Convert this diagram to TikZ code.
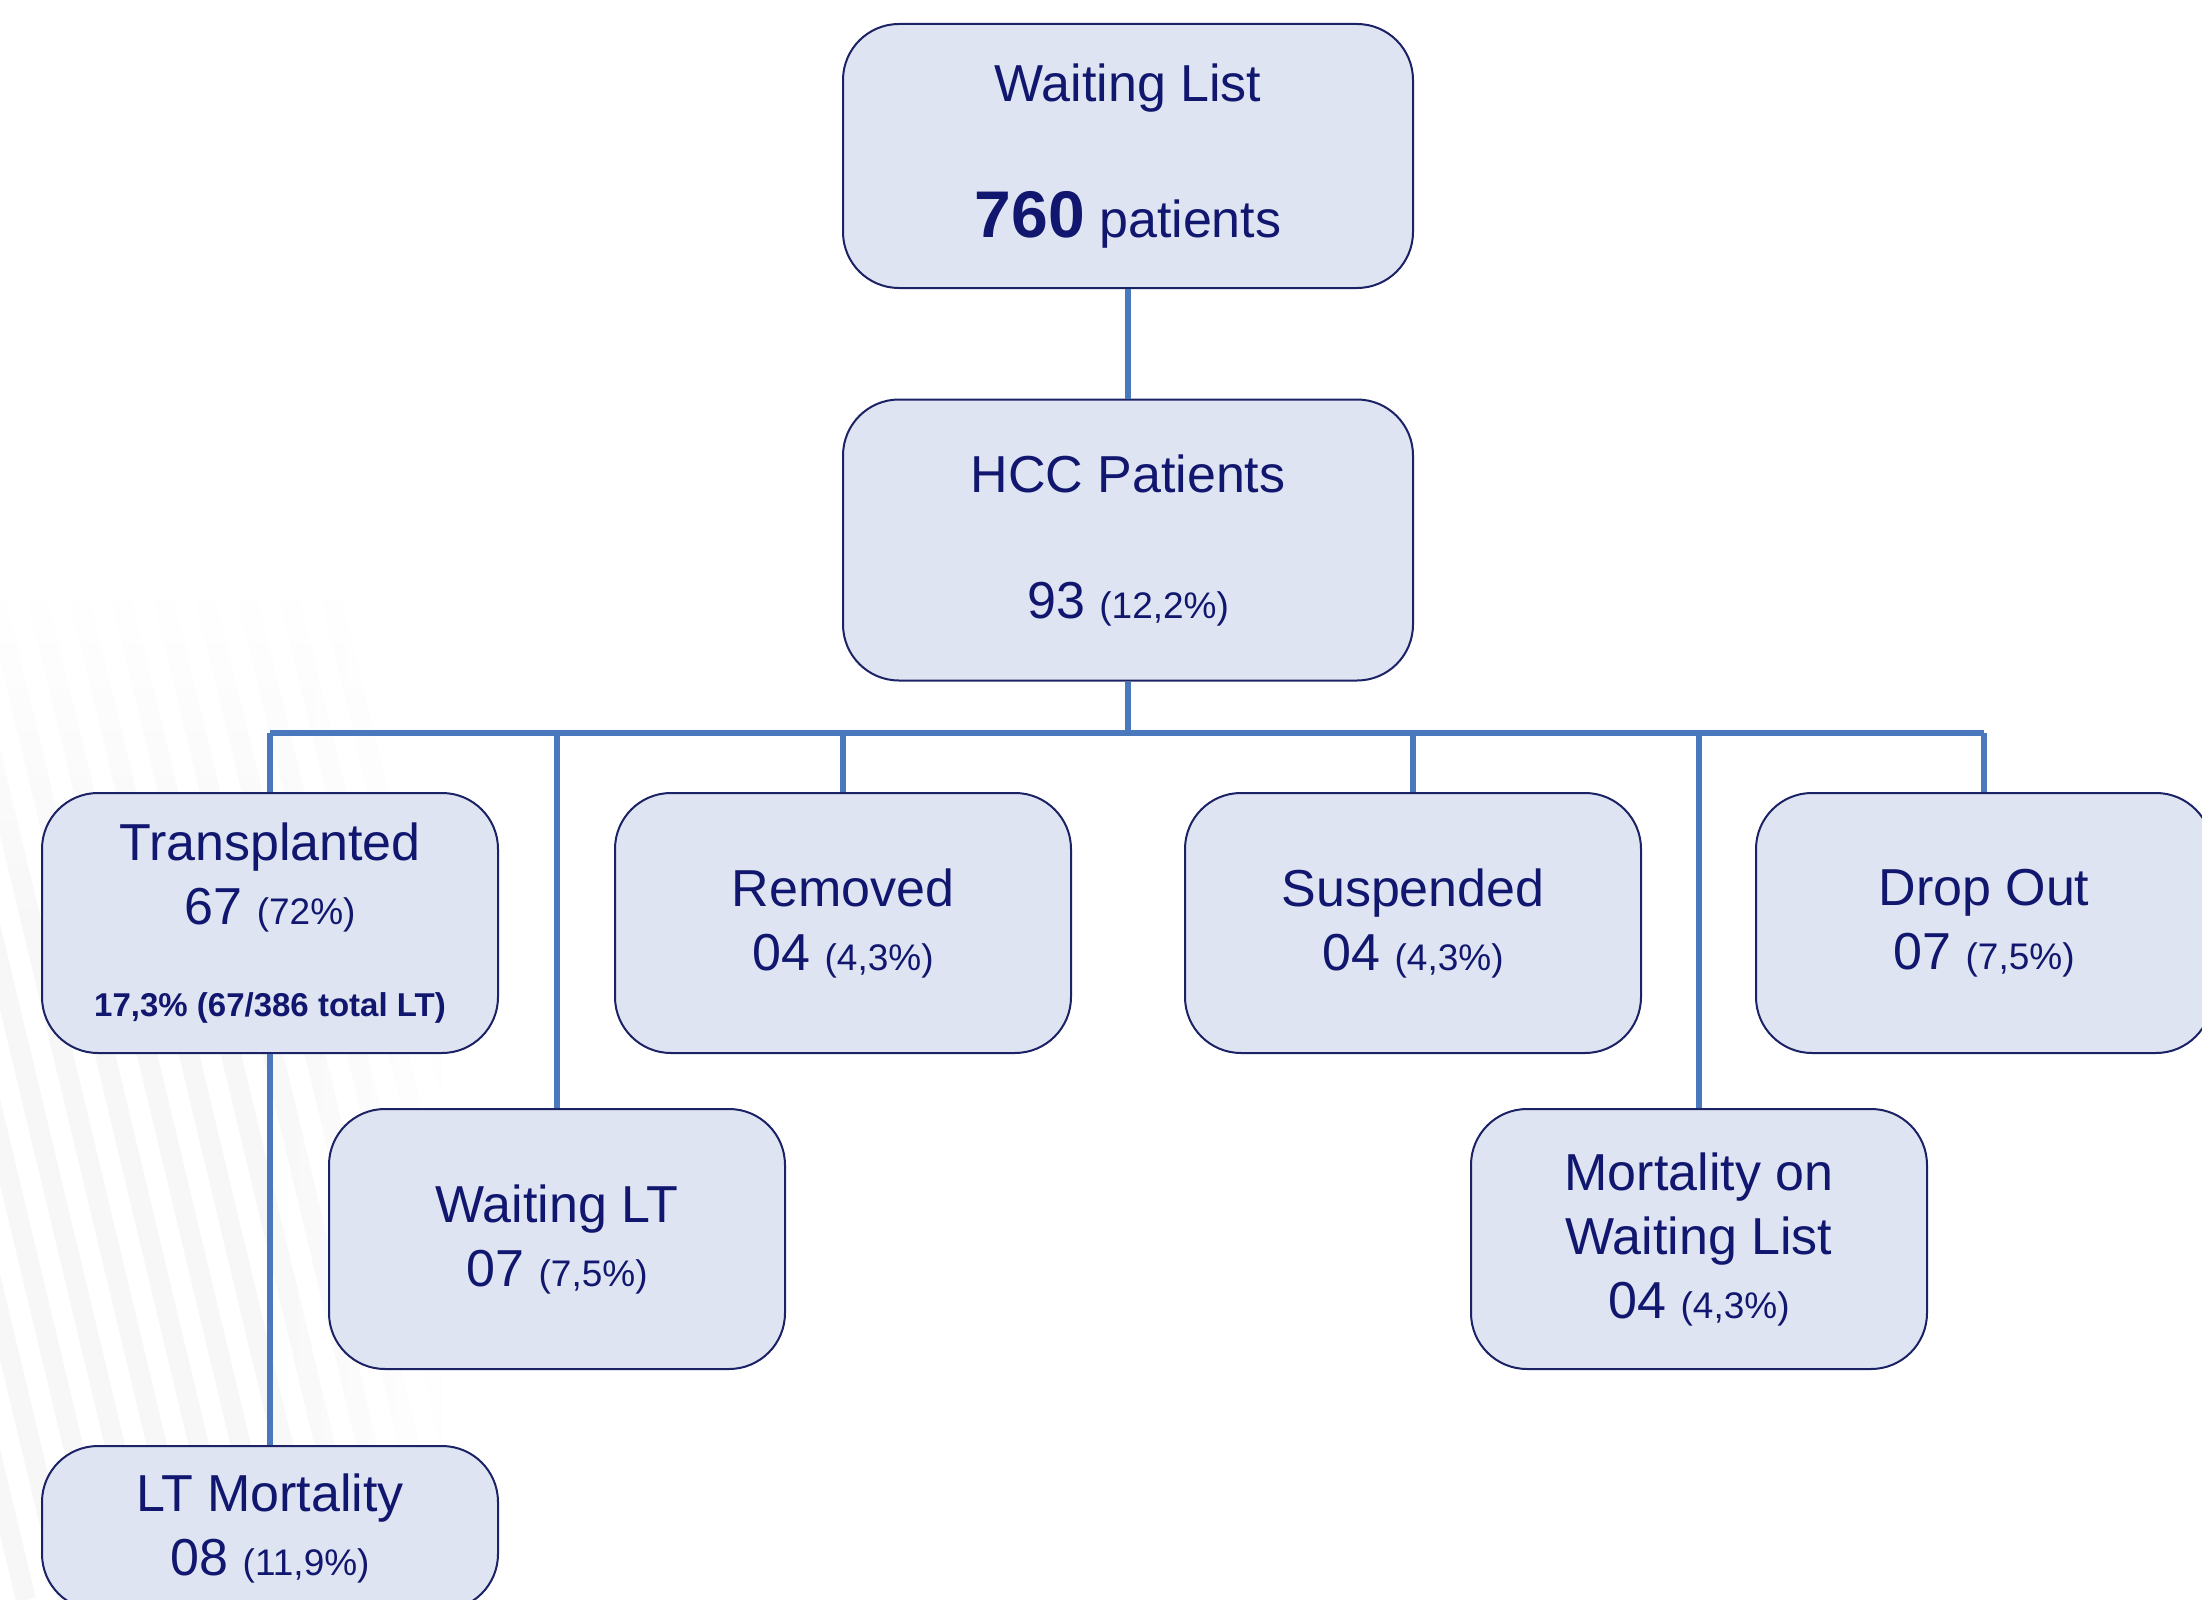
\documentclass[tikz,border=0pt]{standalone}
\usepackage{fontspec}
\setmainfont{Liberation Sans}
\usetikzlibrary{fadings}
\definecolor{boxfill}{HTML}{DEE4F1}
\definecolor{boxline}{HTML}{1C2266}
\definecolor{navy}{HTML}{11176E}
\definecolor{conn}{HTML}{4A78BC}
\begin{document}
\begin{tikzpicture}[x=0.5pt,y=-0.5pt,
  box/.style={draw=boxline, fill=boxfill, rounded corners=28pt, line width=1pt,
    minimum width=228pt, minimum height=130pt, inner sep=0pt, align=center,
    text=navy, font=\fontsize{26}{32}\selectfont},
  link/.style={draw=conn, line width=2.7pt}]
\newcommand{\pct}[1]{{\fontsize{18.5}{22}\selectfont #1}}
\useasboundingbox (0,0) rectangle (2202,1600);
\fill[white] (0,0) rectangle (2202,1600);
% faint background streaks
\begin{scope}
\clip (0,600) rectangle (440,1600);
\foreach \i in {0,...,16}{
  \draw[black!3, line width=10pt] (-340+\i*42,600) -- (-100+\i*42,1600);
}
\fill[white, path fading=south] (0,600) rectangle (440,950);
\fill[white, path fading=west] (250,600) rectangle (441,1600);
\end{scope}

\node[box, minimum width=285pt, minimum height=132pt] (wl) at (1128,156)
  {Waiting List\\[36pt]{\fontsize{33}{32}\selectfont\bfseries 760} patients};
\node[box, minimum width=285pt, minimum height=140.5pt] (hcc) at (1128,540)
  {HCC Patients\\[31pt]93 \pct{(12,2\%)}};

\node[box] (tr) at (270,923)
  {Transplanted\\67 \pct{(72\%)}\\[14pt]{\fontsize{16.5}{18}\selectfont\bfseries 17,3\% (67/386 total LT)}};
\node[box] (rm) at (843,923) {Removed\\04 \pct{(4,3\%)}};
\node[box] (su) at (1413,923) {Suspended\\04 \pct{(4,3\%)}};
\node[box] (do) at (1984,923) {Drop Out\\07 \pct{(7,5\%)}};

\node[box] (wlt) at (557,1239) {Waiting LT\\07 \pct{(7,5\%)}};
\node[box] (mo) at (1699,1239) {Mortality on\\Waiting List\\04 \pct{(4,3\%)}};

\node[box, minimum height=82pt] (ltm) at (270,1528) {LT Mortality\\08 \pct{(11,9\%)}};

\coordinate (bar) at (1128,733);
\draw[link] (wl.south) -- (hcc.north);
\draw[link] (hcc.south) -- (bar);
\draw[link] (tr.north |- bar) -- (do.north |- bar);
\draw[link] (tr.north |- bar) -- (tr.north);
\draw[link] (wlt.north |- bar) -- (wlt.north);
\draw[link] (rm.north |- bar) -- (rm.north);
\draw[link] (su.north |- bar) -- (su.north);
\draw[link] (mo.north |- bar) -- (mo.north);
\draw[link] (do.north |- bar) -- (do.north);
\draw[link] (tr.south) -- (ltm.north);
\end{tikzpicture}
\end{document}
